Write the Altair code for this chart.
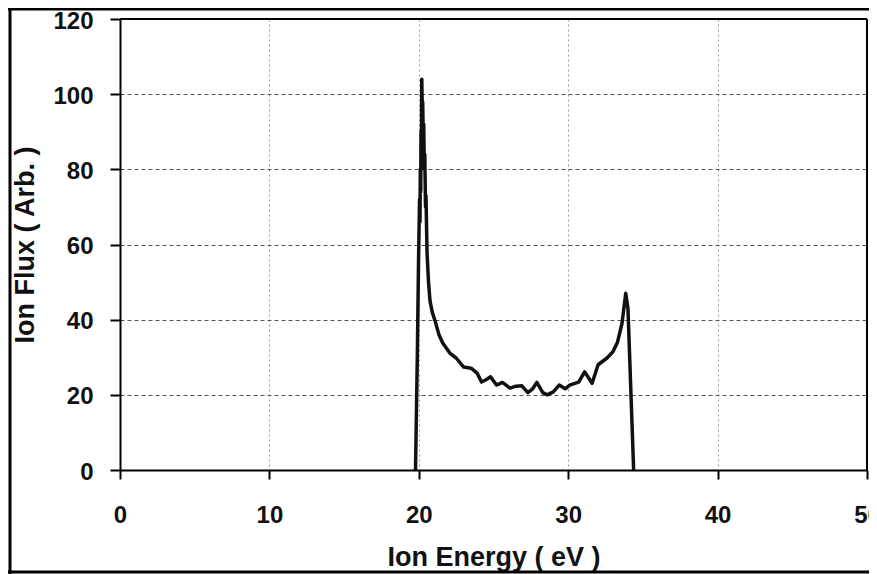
import altair as alt
import pandas as pd

# Ion energy distribution
energy = [19.78, 19.90, 19.98, 20.05, 20.08, 20.10, 20.13, 20.15, 20.17, 20.20,
          20.24, 20.26, 20.30, 20.33, 20.37, 20.40, 20.45, 20.48, 20.55, 20.65,
          20.75, 20.90, 21.10, 21.35, 21.60, 22.10, 22.50, 23.00, 23.50, 23.90,
          24.20, 24.50, 24.80, 25.20, 25.60, 26.10, 26.50, 26.90, 27.30, 27.60,
          27.90, 28.30, 28.60, 29.00, 29.40, 29.80, 30.10, 30.70, 31.10, 31.60,
          32.00, 32.60, 33.00, 33.30, 33.60, 33.85, 34.00, 34.38]
flux = [0, 30, 55, 72, 66, 80, 74, 90, 84, 104,
        94, 98, 88, 92, 80, 84, 70, 73, 58, 50,
        45, 42, 39.5, 36, 33.8, 31, 29.8, 27.4, 27.1, 25.8,
        23.4, 24.0, 24.8, 22.6, 23.3, 21.8, 22.3, 22.4, 20.6, 21.5,
        23.3, 20.6, 20.0, 20.8, 22.6, 21.6, 22.6, 23.4, 26.1, 23.1,
        28.0, 29.8, 31.5, 34.0, 39.0, 47.0, 43.0, 0]

x_ticks = [0, 10, 20, 30, 40, 50]
y_ticks = [0, 20, 40, 60, 80, 100, 120]

df = pd.DataFrame({"energy": energy, "flux": flux, "idx": list(range(len(energy)))})

FONT = "Liberation Sans"
W, H = 747, 451

base = alt.Chart(df)

curve = base.mark_line(color="#111111", strokeWidth=3.5, strokeJoin="round").encode(
    x=alt.X("energy:Q",
            scale=alt.Scale(domain=[0, 50], nice=False, zero=False),
            axis=alt.Axis(values=x_ticks, title="Ion Energy ( eV )",
                          grid=True, gridColor="#9a9a9a", gridDash=[2, 3], gridWidth=1,
                          tickSize=9, labelPadding=24,
                          titleY=95, titleBaseline="alphabetic")),
    y=alt.Y("flux:Q",
            scale=alt.Scale(domain=[0, 120], nice=False),
            axis=alt.Axis(values=y_ticks, title="Ion Flux ( Arb. )",
                          grid=True, gridColor="#555555", gridDash=[4, 3], gridWidth=1,
                          tickSize=10, labelPadding=17, labelOffset=2,
                          titleX=-87, titleBaseline="alphabetic", titleAngle=-90)),
    order="idx:Q",
)

top_border = alt.Chart(pd.DataFrame({"v": [120]})).mark_rule(color="black", strokeWidth=2).encode(
    y=alt.Y("v:Q", scale=alt.Scale(domain=[0, 120], nice=False)))
right_border = alt.Chart(pd.DataFrame({"v": [50]})).mark_rule(color="black", strokeWidth=2).encode(
    x=alt.X("v:Q", scale=alt.Scale(domain=[0, 50], nice=False, zero=False)))

frame_df = pd.DataFrame({"k": [0]})
frame_top = alt.Chart(frame_df).mark_rule(color="black", strokeWidth=3).encode(
    x=alt.value(-112), x2=alt.value(760), y=alt.value(-10))
frame_left = alt.Chart(frame_df).mark_rule(color="black", strokeWidth=3).encode(
    x=alt.value(-110), y=alt.value(-11), y2=alt.value(560))
frame_bottom = alt.Chart(frame_df).mark_rule(color="black", strokeWidth=3).encode(
    x=alt.value(-112), x2=alt.value(760), y=alt.value(553))

chart = alt.layer(curve, top_border, right_border, frame_top, frame_left, frame_bottom).properties(
    width=W, height=H,
    autosize=alt.AutoSizeParams(type="none"),
    padding={"left": 112, "top": 11, "right": 2, "bottom": 104},
    background="white",
).configure_view(stroke=None).configure_axis(
    domainColor="black", domainWidth=2,
    tickColor="black", tickWidth=2,
    labelFont=FONT, labelFontSize=24, labelFontWeight="bold", labelColor="#111111",
    titleFont=FONT, titleFontSize=27, titleFontWeight="bold", titleColor="#111111",
    labelFlush=False,
)

chart.save("out.html", embed_options={"renderer": "svg", "actions": False})
